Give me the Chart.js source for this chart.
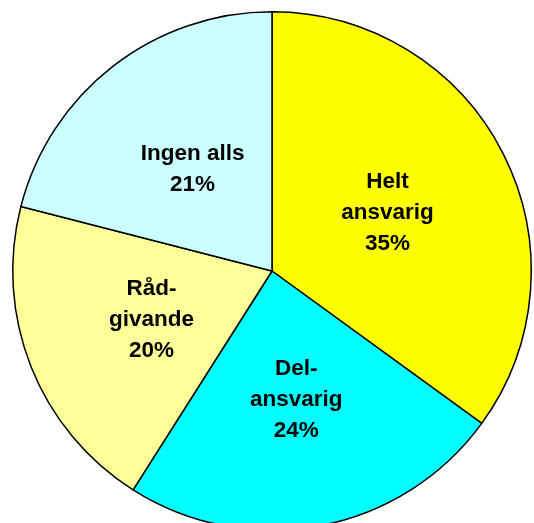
<!DOCTYPE html>
<html>
<head>
<meta charset="utf-8">
<script src="https://cdn.jsdelivr.net/npm/chart.js@4/dist/chart.umd.min.js"></script>
<style>
  html, body { margin: 0; padding: 0; overflow: hidden; background: #fff; }
  #wrap { position: absolute; left: 0; top: 0; width: 544px; height: 542px; }
</style>
</head>
<body>
<div id="wrap"><canvas id="pie" width="544" height="542"></canvas></div>
<script>
const categories = [['Helt', 'ansvarig'], ['Del-', 'ansvarig'], ['Råd-', 'givande'], ['Ingen alls']];
const shares = [35, 24, 20, 21];
const colors = ['#FFFF00', '#00FFFF', '#FFFF99', '#CCFFFF'];

// labels inside each slice, roughly halfway out along the middle angle
const sliceLabels = {
  id: 'sliceLabels',
  afterDatasetsDraw(chart) {
    const ctx = chart.ctx;
    const meta = chart.getDatasetMeta(0);
    ctx.save();
    ctx.font = 'bold 22.5px "Liberation Sans", Arial, sans-serif';
    ctx.fillStyle = '#000';
    ctx.textAlign = 'center';
    ctx.textBaseline = 'middle';
    meta.data.forEach((arc, i) => {
      const p = arc.getProps(['x', 'y', 'startAngle', 'endAngle', 'outerRadius'], true);
      const mid = (p.startAngle + p.endAngle) / 2;
      const d = p.outerRadius * 0.5;
      const cx = p.x + Math.cos(mid) * d;
      const cy = p.y + Math.sin(mid) * d + 1;
      const lines = categories[i].concat([shares[i] + '%']);
      const lh = 31;
      const top = cy - (lines.length - 1) * lh / 2;
      lines.forEach((t, j) => ctx.fillText(t, cx, top + j * lh));
    });
    ctx.restore();
  }
};

new Chart(document.getElementById('pie'), {
  type: 'pie',
  data: {
    labels: categories.map(c => c.join(' ')),
    datasets: [{
      data: shares,
      backgroundColor: colors,
      borderColor: '#000',
      borderWidth: 1.5,
      hoverOffset: 0
    }]
  },
  options: {
    responsive: false,
    animation: false,
    layout: { padding: { left: 12, right: 12, top: 11, bottom: 11 } },
    plugins: {
      legend: { display: false },
      tooltip: { enabled: false }
    }
  },
  plugins: [sliceLabels]
});
</script>
</body>
</html>
